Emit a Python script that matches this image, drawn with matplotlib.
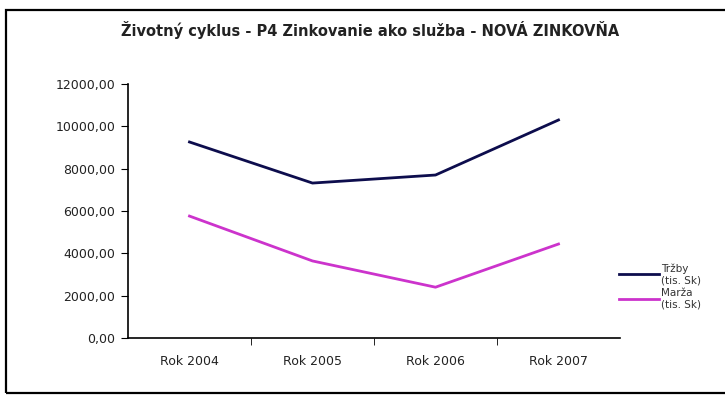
import matplotlib
matplotlib.use("Agg")
import matplotlib.pyplot as plt
from matplotlib.patches import Rectangle
from matplotlib.ticker import FuncFormatter

categories = ["Rok 2004", "Rok 2005", "Rok 2006", "Rok 2007"]
trzby = [9260, 7320, 7700, 10300]
marza = [5760, 3640, 2400, 4440]
series_labels = ["Tržby\n(tis. Sk)", "Marža\n(tis. Sk)"]
title = "Životný cyklus - P4 Zinkovanie ako služba - NOVÁ ZINKOVŇA"

plt.rcParams['font.family'] = ['DejaVu Sans']

W, H = 725, 396
fig = plt.figure(figsize=(W/100, H/100), dpi=100)
fig.patch.set_facecolor('white')

# outer frame
fig.patches.append(Rectangle((6/W, 3/H), 1.2, (396-10-3)/H, transform=fig.transFigure,
                             fill=False, edgecolor='black', linewidth=1.6))

ax = fig.add_axes([128/W, 1-338/H, (620-128)/W, (338-84)/H])
x = list(range(len(categories)))
ax.plot(x, trzby, color='#0d0d4d', linewidth=2.0, label=series_labels[0])
ax.plot(x, marza, color='#cc33cc', linewidth=2.0, label=series_labels[1])
ax.set_xlim(-0.5, len(categories)-0.5)
ax.set_ylim(0, 12000)
ax.set_yticks(range(0, 12001, 2000))
ax.yaxis.set_major_formatter(FuncFormatter(lambda v, p: f"{v:.2f}".replace('.', ',')))
ax.set_xticks(x)
ax.set_xticklabels(categories)
ax.set_xticks([i+0.5 for i in x[:-1]], minor=True)
ax.tick_params(axis='x', which='major', length=0, pad=12, labelsize=9, labelcolor='#222222')
ax.tick_params(axis='x', which='minor', length=5, direction='out')
ax.tick_params(axis='y', length=5, direction='out', labelsize=9, pad=4, labelcolor='#222222')
for s in ['top', 'right']:
    ax.spines[s].set_visible(False)
for s in ['left', 'bottom']:
    ax.spines[s].set_linewidth(1.2)

fig.text(370/W, 1-30/H, title, ha='center', va='center', fontsize=10.5, fontweight='bold',
         color='#222222')

leg = fig.legend(loc='upper left', bbox_to_anchor=(619/W, 1-263/H), frameon=False,
                 fontsize=7.5, handlelength=3.8, handletextpad=0.2, labelspacing=0.25,
                 borderaxespad=0, borderpad=0)
for t in leg.get_texts():
    t.set_color('#333333')

fig.savefig("out.png", dpi=100)
